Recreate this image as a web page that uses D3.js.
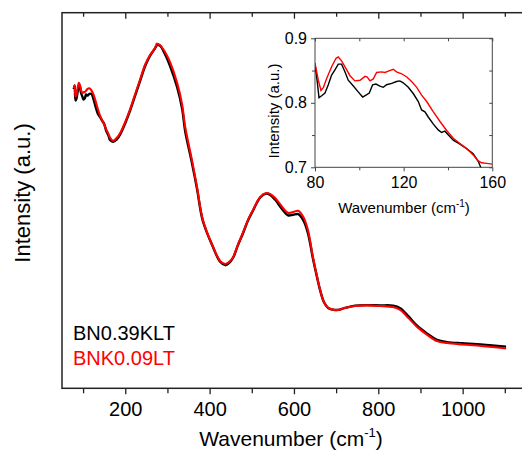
<!DOCTYPE html>
<html><head><meta charset="utf-8">
<script src="https://cdn.jsdelivr.net/npm/d3@7"></script>
<style>body{margin:0;background:#fff}svg{display:block}text{font-family:"Liberation Sans",Arial,sans-serif}</style>
</head><body>
<svg id="c" width="522" height="459"></svg>
<script>
// ---- data ----
const mainWave = [78,80,82,84,86,88,90,92,95,98,101,104,107,110,115,120,125,130,135,140,145,150,155,160,
 164,171,180,188,199,211,223,235,247,259,271,275,282,294,306,323,335,342,358,370,384,408,425,437,446,456,467,479,491,503,520,534,543,555,572,586,598,610,622,633,645,655,662,671,681,695,705,721,745,773,804,835,852,871,892,916,939,963,999,1034,1070,1103];
const mainRed = [0.852,0.861,0.822,0.826,0.843,0.860,0.870,0.865,0.846,0.834,0.837,0.838,0.842,0.848,0.851,0.843,0.828,0.804,0.778,0.755,0.738,0.723,0.705,0.690,
 0.676,0.665,0.676,0.693,0.729,0.775,0.828,0.881,0.934,0.969,0.994,1.008,1.004,0.980,0.944,0.870,0.792,0.715,0.598,0.503,0.386,0.291,0.241,0.230,0.237,0.255,0.298,0.340,0.386,0.421,0.467,0.481,0.478,0.464,0.432,0.411,0.414,0.418,0.397,0.351,0.255,0.184,0.139,0.096,0.075,0.068,0.068,0.075,0.082,0.084,0.082,0.078,0.068,0.040,0.008,-0.020,-0.042,-0.049,-0.054,-0.058,-0.063,-0.068];
const mainBlack = [0.848,0.861,0.808,0.813,0.828,0.846,0.858,0.860,0.835,0.823,0.811,0.815,0.829,0.825,0.831,0.831,0.811,0.784,0.761,0.750,0.737,0.725,0.700,0.685,
 0.668,0.662,0.670,0.688,0.724,0.770,0.823,0.876,0.929,0.966,0.993,1.003,1.002,0.972,0.930,0.855,0.778,0.700,0.588,0.497,0.382,0.290,0.238,0.226,0.233,0.253,0.296,0.338,0.384,0.419,0.465,0.479,0.475,0.458,0.424,0.402,0.404,0.406,0.385,0.340,0.250,0.182,0.138,0.096,0.075,0.068,0.068,0.075,0.083,0.085,0.084,0.083,0.074,0.046,0.012,-0.016,-0.038,-0.046,-0.050,-0.053,-0.058,-0.062];

const insetWaveRed = [80,81.5,82.7,83.8,85.3,87.5,89.5,90.5,92,94,95.8,98,100.3,102.6,103.6,104.8,106.3,107.8,110,111.6,113.1,115.3,116.8,119.1,121.4,123.6,125.9,128.1,130.4,133.4,136.4,139.4,142.4,145.4,148.4,151.4,153.7,155.2,157.4,160];
const insetRed = [0.861,0.835,0.819,0.824,0.838,0.856,0.869,0.871,0.865,0.853,0.842,0.834,0.835,0.841,0.840,0.834,0.837,0.847,0.848,0.847,0.849,0.852,0.848,0.845,0.840,0.833,0.824,0.812,0.802,0.786,0.771,0.757,0.745,0.737,0.729,0.719,0.710,0.707,0.706,0.705];
const insetWaveBlack = [80,81.1,81.8,83,84.5,86,87.5,89,90.5,92,93.5,95,97.3,99.5,101.5,103,104.5,106,107.5,109.3,110.8,112.3,114.6,116.8,118.3,119.8,122.1,124.4,126.6,128.1,129.6,131.1,133.4,135.6,137.1,138.6,140.2,142.4,145.4,148.4,151.4,153.7,155.5];
const insetBlack = [0.861,0.830,0.808,0.811,0.815,0.828,0.843,0.851,0.860,0.860,0.848,0.835,0.826,0.817,0.809,0.812,0.815,0.828,0.829,0.826,0.824,0.828,0.830,0.833,0.834,0.831,0.824,0.814,0.802,0.789,0.786,0.778,0.767,0.758,0.754,0.756,0.750,0.742,0.736,0.729,0.721,0.709,0.694];

const mainTicks = [200,400,600,800,1000];
const mainMinor = [100,300,500,700,900,1100];
const insetXTicks = [80,120,160];
const insetXMinor = [100,140];
const insetYTicks = [0.7,0.8,0.9];
const insetYMinor = [0.75,0.85];
const seriesNames = ["BN0.39KLT","BNK0.09LT"];
const seriesColors = ["#000000","#ff0000"];

// ---- drawing ----
const svg = d3.select("#c");
const L=62, T=12.7, B=388.3, R=525.9;
const x = d3.scaleLinear().domain([50,1150]).range([L,R]);
const y = d3.scaleLinear().domain([-0.209,1.118]).range([B,T]);

const frameColor="#222";
const gB = svg.append("g").attr("transform",`translate(0,${B})`)
  .call(d3.axisBottom(x).tickValues(mainTicks).tickSize(6).tickPadding(8).tickFormat(d3.format("d")));
gB.select(".domain").remove();
gB.selectAll("line").attr("stroke",frameColor).attr("stroke-width",1.3);
gB.selectAll("text").attr("font-size",20).attr("fill","#000").attr("font-family","Liberation Sans, Arial");
svg.append("g").attr("transform",`translate(0,${B})`)
  .call(d3.axisBottom(x).tickValues(mainMinor).tickSize(5).tickFormat(""))
  .call(g=>{g.select(".domain").remove();g.selectAll("line").attr("stroke",frameColor).attr("stroke-width",1.3);});
svg.append("g").attr("transform",`translate(0,${T})`)
  .call(d3.axisBottom(x).tickValues(mainTicks).tickSize(6).tickFormat(""))
  .call(g=>{g.select(".domain").remove();g.selectAll("line").attr("stroke",frameColor).attr("stroke-width",1.3);});
svg.append("g").attr("transform",`translate(0,${T})`)
  .call(d3.axisBottom(x).tickValues(mainMinor).tickSize(4).tickFormat(""))
  .call(g=>{g.select(".domain").remove();g.selectAll("line").attr("stroke",frameColor).attr("stroke-width",1.3);});
svg.append("rect").attr("x",L).attr("y",T).attr("width",R-L).attr("height",B-T)
  .attr("fill","none").attr("stroke",frameColor).attr("stroke-width",1.5);

const line = d3.line().x(d=>x(d[0])).y(d=>y(d[1])).curve(d3.curveCatmullRom.alpha(0.5));
svg.append("path").datum(mainWave.map((w,i)=>[w,mainBlack[i]]))
  .attr("d",line).attr("fill","none").attr("stroke",seriesColors[0]).attr("stroke-width",2.4).attr("stroke-linejoin","round");
svg.append("path").datum(mainWave.map((w,i)=>[w,mainRed[i]]))
  .attr("d",line).attr("fill","none").attr("stroke",seriesColors[1]).attr("stroke-width",2.1).attr("stroke-linejoin","round");

const xt = svg.append("text").attr("x",291).attr("y",446).attr("text-anchor","middle").attr("font-size",21).attr("fill","#000");
xt.append("tspan").text("Wavenumber (cm");
xt.append("tspan").attr("font-size",13).attr("dy",-9).text("-1");
xt.append("tspan").attr("dy",9).text(")");
svg.append("text").attr("transform","translate(30,193) rotate(-90)").attr("text-anchor","middle")
  .attr("font-size",22).attr("fill","#000").text("Intensity (a.u.)");

seriesNames.forEach((n,i)=>{
  svg.append("text").attr("x",73).attr("y",340+i*25).attr("font-size",20).attr("fill",seriesColors[i]).text(n);
});

// ---- inset ----
const iL=315, iR=492.3, iT=38.3, iB=167.3;
const ix = d3.scaleLinear().domain([80,160]).range([iL,iR]);
const iy = d3.scaleLinear().domain([0.7,0.9]).range([iB,iT]);
const insetColor="#444";
svg.append("defs").append("clipPath").attr("id","ic").append("rect")
  .attr("x",iL).attr("y",iT).attr("width",iR-iL).attr("height",iB-iT);
const ixb = svg.append("g").attr("transform",`translate(0,${iB})`)
  .call(d3.axisBottom(ix).tickValues(insetXTicks).tickSize(4).tickPadding(5).tickFormat(d3.format("d")));
ixb.select(".domain").remove();
ixb.selectAll("line").attr("stroke",insetColor);
ixb.selectAll("text").attr("font-size",16).attr("fill","#000").attr("font-family","Liberation Sans, Arial");
svg.append("g").attr("transform",`translate(0,${iB})`)
  .call(d3.axisBottom(ix).tickValues(insetXMinor).tickSize(3).tickFormat(""))
  .call(g=>{g.select(".domain").remove();g.selectAll("line").attr("stroke",insetColor);});
svg.append("g").attr("transform",`translate(0,${iT})`)
  .call(d3.axisBottom(ix).tickValues(insetXTicks.concat(insetXMinor)).tickSize(3).tickFormat(""))
  .call(g=>{g.select(".domain").remove();g.selectAll("line").attr("stroke",insetColor);});
const iyl = svg.append("g").attr("transform",`translate(${iL},0)`)
  .call(d3.axisLeft(iy).tickValues(insetYTicks).tickSize(4).tickPadding(4).tickFormat(d3.format(".1f")));
iyl.select(".domain").remove();
iyl.selectAll("line").attr("stroke",insetColor);
iyl.selectAll("text").attr("font-size",16).attr("fill","#000").attr("font-family","Liberation Sans, Arial");
svg.append("g").attr("transform",`translate(${iL},0)`)
  .call(d3.axisLeft(iy).tickValues(insetYMinor).tickSize(3).tickFormat(""))
  .call(g=>{g.select(".domain").remove();g.selectAll("line").attr("stroke",insetColor);});
svg.append("g").attr("transform",`translate(${iR},0)`)
  .call(d3.axisLeft(iy).tickValues(insetYTicks.concat(insetYMinor)).tickSize(3).tickFormat(""))
  .call(g=>{g.select(".domain").remove();g.selectAll("line").attr("stroke",insetColor);});
svg.append("rect").attr("x",iL).attr("y",iT).attr("width",iR-iL).attr("height",iB-iT)
  .attr("fill","none").attr("stroke",insetColor).attr("stroke-width",1);
const iline = d3.line().x(d=>ix(d[0])).y(d=>iy(d[1]));
const ig = svg.append("g").attr("clip-path","url(#ic)");
ig.append("path").datum(insetWaveBlack.map((w,i)=>[w,insetBlack[i]]))
  .attr("d",iline).attr("fill","none").attr("stroke",seriesColors[0]).attr("stroke-width",1.4);
ig.append("path").datum(insetWaveRed.map((w,i)=>[w,insetRed[i]]))
  .attr("d",iline).attr("fill","none").attr("stroke",seriesColors[1]).attr("stroke-width",1.4);
const ixt = svg.append("text").attr("x",404).attr("y",213).attr("text-anchor","middle").attr("font-size",15).attr("fill","#000");
ixt.append("tspan").text("Wavenumber (cm");
ixt.append("tspan").attr("font-size",10).attr("dy",-6).text("-1");
ixt.append("tspan").attr("dy",6).text(")");
svg.append("text").attr("transform","translate(279,111) rotate(-90)").attr("text-anchor","middle")
  .attr("font-size",15).attr("fill","#000").text("Intensity (a.u.)");
</script>
</body></html>
